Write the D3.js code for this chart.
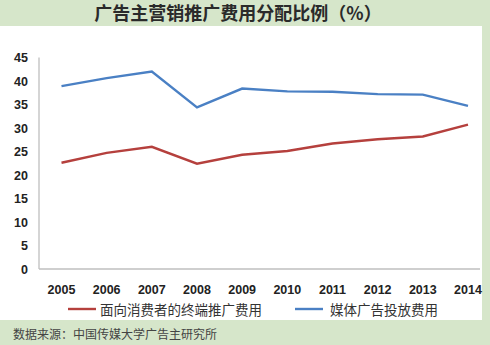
<!DOCTYPE html>
<html><head><meta charset="utf-8">
<script src="https://cdn.jsdelivr.net/npm/d3@7"></script>
<style>html,body{margin:0;padding:0;background:#d6e6ca;}svg{display:block;}</style>
</head><body>
<script>
const years = ["2005","2006","2007","2008","2009","2010","2011","2012","2013","2014"];
const terminal = [22.6,24.7,26.0,22.4,24.3,25.1,26.7,27.6,28.2,30.7];
const media = [38.9,40.6,42.0,34.4,38.4,37.8,37.7,37.2,37.1,34.7];
const yTicks = [0,5,10,15,20,25,30,35,40,45];
const seriesNames = ["面向消费者的终端推广费用","媒体广告投放费用"];
const colors = ["#b5403d","#4a80c4"];

const W = 490, H = 345;
const svg = d3.select("body").append("svg").attr("width", W).attr("height", H);
svg.append("rect").attr("x",0).attr("y",0).attr("width",W).attr("height",H).attr("fill","#d6e6ca");
svg.append("rect").attr("x",0).attr("y",26).attr("width",482).attr("height",294).attr("fill","#ffffff");

svg.append("text").attr("x",238).attr("y",20).attr("text-anchor","middle")
  .attr("font-family","Noto Sans CJK SC").attr("font-weight","bold").attr("font-size",18)
  .attr("fill","#2a2a2a").text("广告主营销推广费用分配比例（%）");

const x = d3.scalePoint().domain(years).range([61.5,468]);
const y = d3.scaleLinear().domain([0,45]).range([269,57.5]);

svg.append("line").attr("x1",39).attr("x2",39).attr("y1",y(45)).attr("y2",y(0)).attr("stroke","#bfbfbf").attr("stroke-width",1.3);
svg.append("line").attr("x1",39).attr("x2",480).attr("y1",y(0)).attr("y2",y(0)).attr("stroke","#bfbfbf").attr("stroke-width",1.3);

svg.append("g").selectAll("text").data(yTicks).join("text")
  .attr("x",28).attr("y",d=>y(d)+4.5).attr("text-anchor","end")
  .attr("font-family","Liberation Sans").attr("font-weight","bold").attr("font-size",12.5).attr("fill","#222")
  .text(d=>d);
svg.append("g").selectAll("text").data(years).join("text")
  .attr("x",d=>x(d)).attr("y",294).attr("text-anchor","middle")
  .attr("font-family","Liberation Sans").attr("font-weight","bold").attr("font-size",12.5).attr("fill","#222")
  .text(d=>d);

const line = d3.line().x((d,i)=>x(years[i])).y(d=>y(d));
[terminal, media].forEach((s,k)=>{
  svg.append("path").attr("d",line(s)).attr("fill","none").attr("stroke",colors[k]).attr("stroke-width",2.4);
});

const leg = [{x1:68,x2:96,tx:100},{x1:295,x2:323,tx:330}];
leg.forEach((l,k)=>{
  svg.append("line").attr("x1",l.x1).attr("x2",l.x2).attr("y1",309).attr("y2",309).attr("stroke",colors[k]).attr("stroke-width",2.4);
  svg.append("text").attr("x",l.tx).attr("y",314.5).attr("font-family","Noto Sans CJK SC").attr("font-size",13.5)
    .attr("fill","#333").text(seriesNames[k]);
});

svg.append("text").attr("x",13).attr("y",339).attr("font-family","Noto Sans CJK SC").attr("font-size",12)
  .attr("fill","#444").text("数据来源：中国传媒大学广告主研究所");
</script>
</body></html>
